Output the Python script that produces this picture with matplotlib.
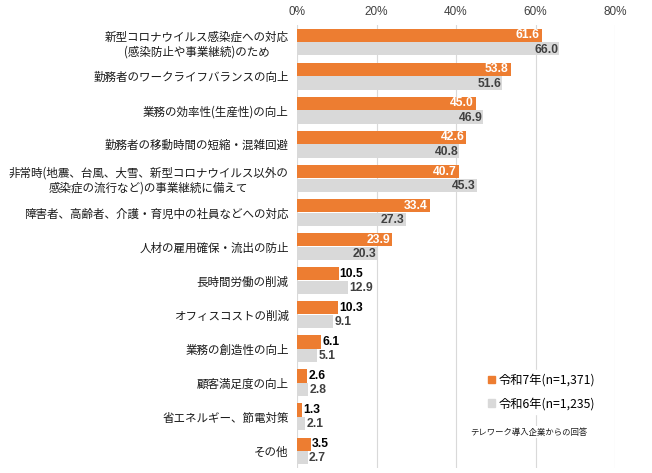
import numpy as np
import matplotlib.pyplot as plt
from matplotlib.patches import Patch

plt.rcParams['font.family'] = ['Noto Sans CJK JP', 'DejaVu Sans']

categories = [
    '新型コロナウイルス感染症への対応\n(感染防止や事業継続)のため',
    '勤務者のワークライフバランスの向上',
    '業務の効率性(生産性)の向上',
    '勤務者の移動時間の短縮・混雑回避',
    '非常時(地震、台風、大雪、新型コロナウイルス以外の\n感染症の流行など)の事業継続に備えて',
    '障害者、高齢者、介護・育児中の社員などへの対応',
    '人材の雇用確保・流出の防止',
    '長時間労働の削減',
    'オフィスコストの削減',
    '業務の創造性の向上',
    '顧客満足度の向上',
    '省エネルギー、節電対策',
    'その他',
]
r7 = [61.6, 53.8, 45.0, 42.6, 40.7, 33.4, 23.9, 10.5, 10.3, 6.1, 2.6, 1.3, 3.5]
r6 = [66.0, 51.6, 46.9, 40.8, 45.3, 27.3, 20.3, 12.9, 9.1, 5.1, 2.8, 2.1, 2.7]
xticks = [0, 20, 40, 60, 80]
legend_labels = ['令和7年(n=1,371)', '令和6年(n=1,235)']
note = 'テレワーク導入企業からの回答'

orange = '#ED7D31'
grey = '#D9D9D9'
num_font = ['Liberation Sans', 'DejaVu Sans']

fig = plt.figure(figsize=(6.52, 4.73), dpi=100)
ax = fig.add_axes([297 / 652, 1 - 468 / 473, (615 - 297) / 652, (468 - 25) / 473])

y = np.arange(len(categories))
h = 0.39
ax.barh(y - 0.2, r7, height=h, color=orange, zorder=2)
ax.barh(y + 0.2, r6, height=h, color=grey, zorder=2)

ax.set_xlim(0, 80)
ax.set_ylim(len(categories) - 0.5, -0.5)
ax.set_xticks(xticks)
ax.set_xticklabels([f'{t}%' for t in xticks], family=num_font, fontsize=8.5, color='#404040')
ax.xaxis.tick_top()
ax.tick_params(axis='x', length=0, pad=5)
ax.tick_params(axis='y', length=0, pad=6)
ax.set_yticks(y)
ax.set_yticklabels(categories, fontsize=8.3, color='#1a1a1a')
for lab in ax.get_yticklabels():
    lab.set_multialignment('center')

ax.grid(axis='x', color='#D9D9D9', linewidth=0.8, zorder=0)
for s in ax.spines.values():
    s.set_visible(False)

# one pixel in data units
px = 80 / (615 - 297)
for i in range(len(categories)):
    v = r7[i]
    if v >= 20:
        ax.text(v - 2 * px, i - 0.2, f'{v:.1f}', ha='right', va='center', color='white',
                fontweight='bold', family=num_font, fontsize=8.7, zorder=3)
    else:
        ax.text(v + 1 * px, i - 0.2, f'{v:.1f}', ha='left', va='center', color='black',
                fontweight='bold', family=num_font, fontsize=8.7, zorder=3)
    v = r6[i]
    if v >= 20:
        ax.text(v - 1 * px, i + 0.22, f'{v:.1f}', ha='right', va='center', color='#404040',
                fontweight='bold', family=num_font, fontsize=8.7, zorder=3)
    else:
        ax.text(v + 1 * px, i + 0.22, f'{v:.1f}', ha='left', va='center', color='#404040',
                fontweight='bold', family=num_font, fontsize=8.7, zorder=3)

handles = [Patch(color=orange), Patch(color=grey)]
leg = fig.legend(handles, legend_labels, loc='upper left', bbox_to_anchor=(478 / 652, 1 - 364 / 473),
                 frameon=True, fancybox=False, edgecolor='white', facecolor='white', framealpha=1,
                 handlelength=0.6, handleheight=0.6, handletextpad=0.3, labelspacing=0.85,
                 borderpad=0.3, prop={'size': 8.8})
leg.set_zorder(5)

fig.text(470 / 652, 1 - 432 / 473, note, fontsize=6, va='center', ha='left', color='#1a1a1a',
         bbox=dict(facecolor='white', edgecolor='none', pad=1), zorder=5)

fig.savefig('out.png', dpi=100)
